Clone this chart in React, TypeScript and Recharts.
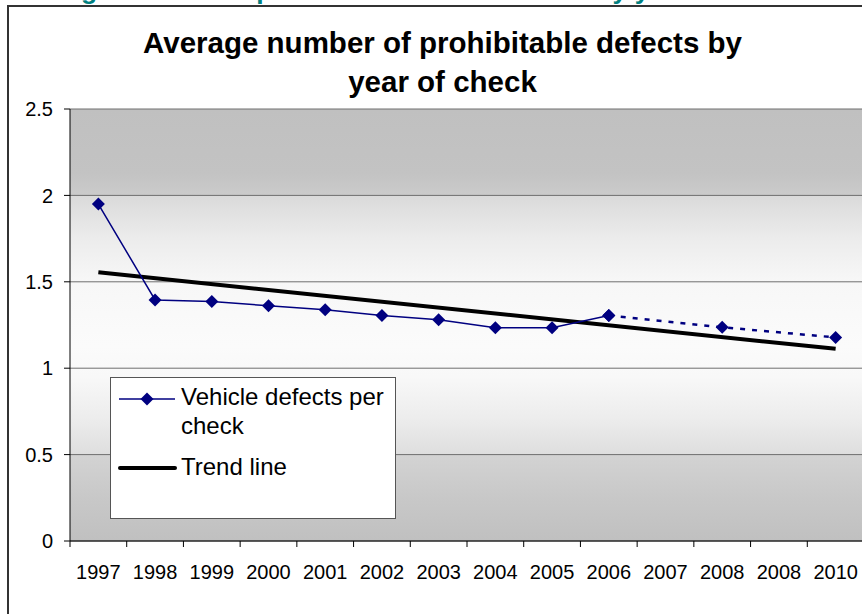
import { LineChart, Line, XAxis, YAxis, CartesianGrid } from "recharts";

const years = ["1997", "1998", "1999", "2000", "2001", "2002", "2003", "2004", "2005", "2006", "2007", "2008", "2008", "2010"];
const defectsPerCheck = [1.95, 1.395, 1.386, 1.361, 1.338, 1.305, 1.28, 1.234, 1.234, 1.305, null, null, null, null];
const projectedDefects = [null, null, null, null, null, null, null, null, null, 1.305, null, 1.237, null, 1.178];
const trendLine = [1.555, null, null, null, null, null, null, null, null, null, null, null, null, 1.112];
const yTicks = [0, 0.5, 1, 1.5, 2, 2.5];

const CHART_W = 870;
const CHART_H = 609;
const MARGIN = { top: 104, right: 13, bottom: 33, left: 0 };
const Y_AXIS_W = 63;
const PLOT_W = CHART_W - MARGIN.left - MARGIN.right - Y_AXIS_W;
const BAND = PLOT_W / years.length;
const FONT = '"Liberation Sans", Arial, sans-serif';
const NAVY = "#000080";

const data = years.map((year, i) => ({
  idx: i,
  year,
  actual: defectsPerCheck[i],
  projected: projectedDefects[i],
  trend: trendLine[i],
}));

function Diamond(props: any) {
  const { cx, cy, value, index } = props;
  const key = props.key ?? `dot-${props.dataKey}-${index}`;
  if (value == null || cx == null || cy == null) return <g key={key} />;
  const r = 6.5;
  return (
    <polygon
      key={key}
      points={`${cx},${cy - r} ${cx + r},${cy} ${cx},${cy + r} ${cx - r},${cy}`}
      fill={NAVY}
    />
  );
}

// Excel style: tick marks sit between the categories
function YearTick(props: any) {
  const { x, y, payload } = props;
  const i = payload.value;
  const axisY = y - 24;
  return (
    <g>
      <line x1={x - BAND / 2} y1={axisY} x2={x - BAND / 2} y2={axisY + 6} stroke="#000" />
      {i === years.length - 1 && (
        <line x1={x + BAND / 2} y1={axisY} x2={x + BAND / 2} y2={axisY + 6} stroke="#000" />
      )}
      <text x={x} y={y} dy="0.71em" textAnchor="middle" fontSize={20} fontFamily={FONT} fill="#000">
        {years[i]}
      </text>
    </g>
  );
}

export default function App() {
  return (
    <div
      style={{
        position: "fixed",
        left: 0,
        top: 0,
        width: 862,
        height: 614,
        overflow: "hidden",
        background: "#fff",
        fontFamily: FONT,
      }}
    >
      {/* page heading above the chart, cut off by the top edge */}
      <div
        style={{
          position: "absolute",
          left: 8.4,
          top: -23.4,
          fontSize: 26.5,
          lineHeight: "26.5px",
          fontWeight: "bold",
          color: "#008080",
          whiteSpace: "nowrap",
        }}
      >
        Average number of prohibitable defects found by year
      </div>

      <div style={{ position: "absolute", left: 7, top: 5, width: 870, height: 620 }}>
        <LineChart width={CHART_W} height={CHART_H} data={data} margin={MARGIN}>
          <defs>
            <linearGradient id="plotBg" x1="0" y1="0" x2="0" y2="1">
              <stop offset="0" stopColor="#c0c0c0" />
              <stop offset="0.15" stopColor="#c3c3c3" />
              <stop offset="0.199" stopColor="#cbcbcb" />
              <stop offset="0.201" stopColor="#dadada" />
              <stop offset="0.3" stopColor="#ececec" />
              <stop offset="0.4" stopColor="#f7f7f7" />
              <stop offset="0.55" stopColor="#fbfbfb" />
              <stop offset="0.62" stopColor="#f8f8f8" />
              <stop offset="0.72" stopColor="#ececec" />
              <stop offset="0.799" stopColor="#dedede" />
              <stop offset="0.801" stopColor="#d3d3d3" />
              <stop offset="0.9" stopColor="#c8c8c8" />
              <stop offset="1" stopColor="#c0c0c0" />
            </linearGradient>
          </defs>
          <CartesianGrid vertical={false} stroke="#6e6e6e" fill="url(#plotBg)" fillOpacity={1} />
          <XAxis
            dataKey="idx"
            type="category"
            padding={{ left: BAND / 2, right: BAND / 2 }}
            axisLine={{ stroke: "#000" }}
            tickLine={false}
            tickSize={6}
            tickMargin={18}
            interval={0}
            height={40}
            tick={YearTick}
          />
          <YAxis
            domain={[0, 2.5]}
            ticks={yTicks}
            width={Y_AXIS_W}
            axisLine={{ stroke: "#000" }}
            tickLine={{ stroke: "#000" }}
            tickSize={6}
            tickMargin={11}
            interval={0}
            tick={{ fontSize: 20, fill: "#000", fontFamily: FONT }}
          />
          <Line
            dataKey="trend"
            name="Trend line"
            stroke="#000"
            strokeWidth={4}
            dot={false}
            activeDot={false}
            connectNulls
            isAnimationActive={false}
          />
          <Line
            dataKey="projected"
            stroke={NAVY}
            strokeWidth={2.5}
            strokeDasharray="5 7"
            dot={Diamond}
            activeDot={false}
            connectNulls
            isAnimationActive={false}
          />
          <Line
            dataKey="actual"
            name="Vehicle defects per check"
            stroke={NAVY}
            strokeWidth={1.5}
            dot={Diamond}
            activeDot={false}
            isAnimationActive={false}
          />
        </LineChart>

        {/* chart title */}
        <div
          style={{
            position: "absolute",
            left: 85.5,
            top: 18.3,
            width: 700,
            textAlign: "center",
            fontSize: 29.5,
            lineHeight: "39px",
            fontWeight: "bold",
            color: "#000",
            whiteSpace: "nowrap",
          }}
        >
          <div>Average number of prohibitable defects by</div>
          <div>year of check</div>
        </div>

        {/* legend */}
        <div
          style={{
            position: "absolute",
            left: 103,
            top: 372,
            width: 286,
            height: 142,
            boxSizing: "border-box",
            border: "1px solid #555",
            background: "#fff",
          }}
        >
          <svg width={286} height={142} style={{ position: "absolute", left: -1, top: -1 }}>
            <line x1={9} y1={22} x2={65} y2={22} stroke={NAVY} strokeWidth={1.5} />
            <polygon points="37,15.5 43.5,22 37,28.5 30.5,22" fill={NAVY} />
            <line x1={10} y1={91} x2={65} y2={91} stroke="#000" strokeWidth={4} strokeLinecap="round" />
          </svg>
          <div style={{ position: "absolute", left: 70, top: 4.2, fontSize: 24, lineHeight: "29px", whiteSpace: "nowrap" }}>
            <div>Vehicle defects per</div>
            <div>check</div>
          </div>
          <div style={{ position: "absolute", left: 70, top: 74.2, fontSize: 24, lineHeight: "29px", whiteSpace: "nowrap" }}>
            Trend line
          </div>
        </div>

        {/* outer chart frame */}
        <div
          style={{
            position: "absolute",
            left: 0,
            top: 0,
            width: 870,
            height: 620,
            borderLeft: "2px solid #333",
            borderTop: "2px solid #333",
            pointerEvents: "none",
          }}
        />
      </div>
    </div>
  );
}
